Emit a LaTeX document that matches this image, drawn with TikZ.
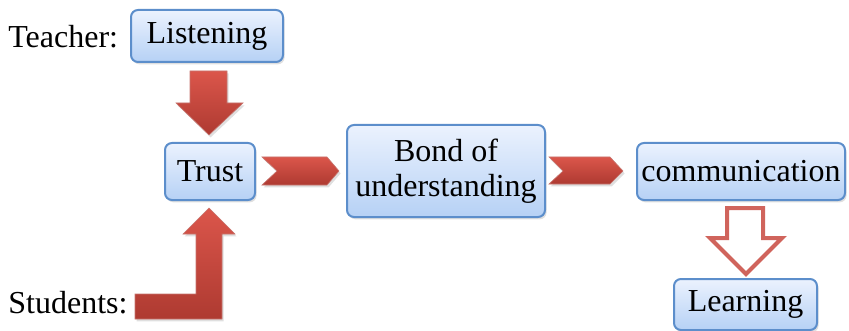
\documentclass[tikz,border=0pt]{standalone}
\usepackage{fontspec}
\setmainfont{Liberation Serif}
\usetikzlibrary{shadows}

\definecolor{boxline}{HTML}{5C8ECB}
\definecolor{boxtop}{HTML}{EBF2FE}
\definecolor{boxbot}{HTML}{B6D1F5}
\definecolor{arrowtop}{HTML}{DB564B}
\definecolor{arrowbot}{HTML}{AE3A31}
\definecolor{hollowred}{HTML}{D0645C}

\begin{document}
\begin{tikzpicture}[x=0.5pt,y=-0.5pt,font=\fontsize{16}{17.5}\selectfont,
  box/.style={draw=boxline, line width=1pt, rounded corners=3.5pt, top color=boxtop, bottom color=boxbot, inner sep=0pt,
    drop shadow={opacity=0.25, shadow xshift=0.8pt, shadow yshift=-1.2pt}},
  redarrow/.style={top color=arrowtop, bottom color=arrowbot, draw=arrowbot!70, line width=0.3pt,
    drop shadow={opacity=0.25, shadow xshift=0.8pt, shadow yshift=-1.2pt}},
  hollow/.style={draw=hollowred, line width=2pt, fill=white, line join=miter}]

\useasboundingbox (0,0) rectangle (849,331);

\node[anchor=west, inner sep=0pt] (teacher) at (8,37) {Teacher:};
\node[anchor=west, inner sep=0pt] (students) at (8,303) {Students:};

\node[box, minimum width=76pt, minimum height=26pt] (listen) at (207,36) {Listening};
\node[box, minimum width=45pt, minimum height=28.5pt] (trust) at (210,171.5) {Trust};
\node[box, minimum width=99pt, minimum height=46pt, align=center] (bond) at (446,171) {Bond of\\understanding};
\node[box, minimum width=104pt, minimum height=28.5pt] (comm) at (741,171.5) {communication};
\node[box, minimum width=71.5pt, minimum height=25.5pt] (learn) at (745.5,304.5) {Learning};

% listening -> trust
\draw[redarrow] (190,71) -- (227,71) -- (227,103) -- (243,103) -- (209,135) -- (176,103) -- (190,103) -- cycle;

% students -> trust
\draw[redarrow] (135,294) -- (196,294) -- (196,234) -- (183,234) -- (209,208) -- (235,234) -- (222,234) -- (222,319) -- (135,319) -- cycle;

% trust -> bond -> communication
\draw[redarrow] (262,157) -- (327,157) -- (339,171) -- (327,185) -- (262,185) -- (277,171) -- cycle;
\draw[redarrow] (549,157) -- (610,157) -- (623,171) -- (610,184) -- (549,184) -- (563,171) -- cycle;

% communication -> learning
\draw[hollow] (727,208) -- (763,208) -- (763,238) -- (782,238) -- (746,274) -- (710,238) -- (727,238) -- cycle;

\end{tikzpicture}
\end{document}
